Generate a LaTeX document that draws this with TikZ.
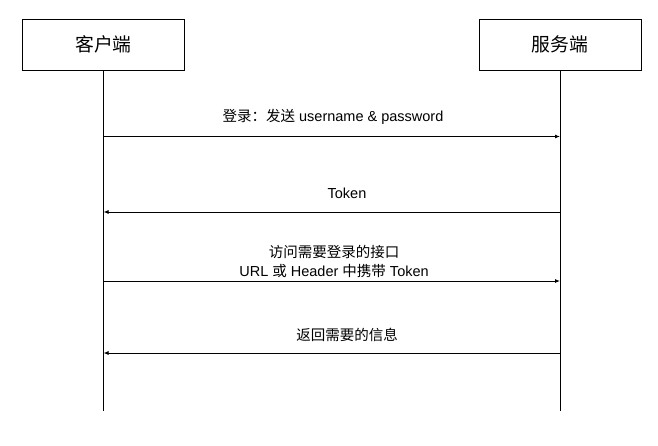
\documentclass[tikz,border=0pt]{standalone}
\usepackage{fontspec}
\setmainfont{Liberation Sans}
\newfontfamily\cjk{Noto Sans CJK SC}
\usetikzlibrary{arrows.meta}
\begin{document}
\begin{tikzpicture}[x=1pt,y=-1pt,
  actor/.style={draw,line width=0.9pt,minimum width=162pt,minimum height=51pt,inner sep=0pt,font=\fontsize{18.8}{21}\selectfont\cjk},
  life/.style={line width=0.9pt},
  msg/.style={line width=0.9pt,-{Latex[length=5pt,width=4pt]}},
  lbl/.style={font=\fontsize{14.5}{18}\selectfont,align=center,inner sep=0pt}]
\useasboundingbox[fill=white] (0,0) rectangle (658,445);
\node[actor] (client) at (103.5,44.5) {客户端};
\node[actor] (server) at (560,44.5) {服务端};
\coordinate (cend) at (103.5,411);
\coordinate (send) at (560,411);
\draw[life] (client.south) -- (cend);
\draw[life] (server.south) -- (send);
\coordinate (c1) at (103.5,136.5);
\coordinate (s1) at (560,136.5);
\coordinate (c2) at (103.5,212);
\coordinate (s2) at (560,212);
\coordinate (c3) at (103.5,281);
\coordinate (s3) at (560,281);
\coordinate (c4) at (103.5,353);
\coordinate (s4) at (560,353);
\draw[msg] (c1) -- (s1);
\draw[msg] (s2) -- (c2);
\draw[msg] (c3) -- (s3);
\draw[msg] (s4) -- (c4);
\node[lbl] (l1) at (333,117) {{\cjk 登录：发送} username \& password};
\node[lbl] (l2) at (347,193) {Token};
\node[lbl] (l3) at (334,261.5) {{\cjk 访问需要登录的接口}\\[0.5pt]URL {\cjk 或} Header {\cjk 中携带} Token};
\node[lbl] (l4) at (347,335) {\cjk 返回需要的信息};
\end{tikzpicture}
\end{document}
